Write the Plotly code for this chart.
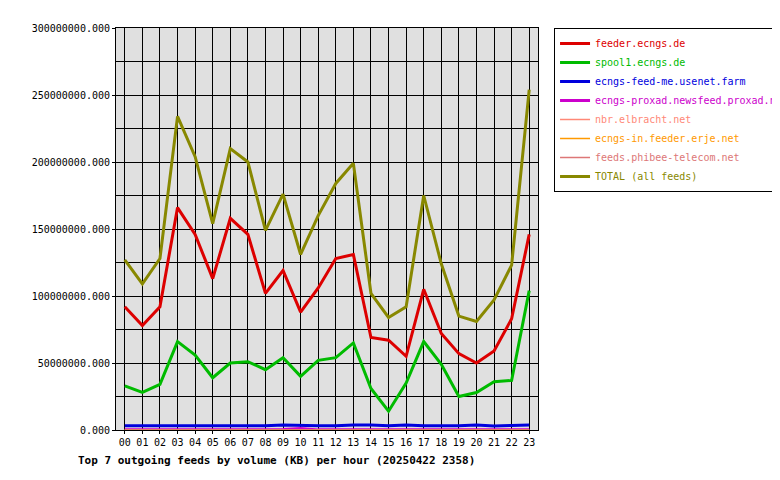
import plotly.graph_objects as go

hours = ['%02d' % h for h in range(24)]

feeder = [92, 78, 92, 166, 146, 113, 158, 146, 102, 119, 88, 106, 128, 131, 69, 67, 55, 105, 72, 57, 50, 59, 83, 146]
spool1 = [33, 28, 34, 66, 56, 39, 50, 51, 45, 54, 40, 52, 54, 65, 31, 14, 35, 66, 49, 25, 28, 36, 37, 104]
feedme = [3.2, 3.2, 3.2, 3.2, 3.2, 3.2, 3.2, 3.2, 3.2, 3.8, 3.4, 3.2, 3.2, 3.8, 3.8, 3.2, 3.8, 3.2, 3.2, 3.2, 3.8, 3.0, 3.4, 3.8]
proxad = [0.1, 0.1, 0.1, 0.1, 0.1, 0.1, 0.1, 0.1, 0.1, 0.3, 1.2, 0.1, 0.1, 0.1, 0.1, 0.1, 0.1, 0.1, 0.1, 0.1, 0.1, 0.1, 0.1, 0.1]
elbracht = [0] * 24
erje = [0] * 24
phibee = [0] * 24
total = [127, 109, 128, 234, 204, 154, 210, 200, 149, 176, 131, 160, 184, 199, 102, 84, 92, 175, 124, 85, 81, 97, 123, 254]

series = [
    ('feeder.ecngs.de', feeder, '#dd0000', 3),
    ('spool1.ecngs.de', spool1, '#00bb00', 3),
    ('ecngs-feed-me.usenet.farm', feedme, '#0000dd', 3),
    ('ecngs-proxad.newsfeed.proxad.net', proxad, '#cc00cc', 3),
    ('nbr.elbracht.net', elbracht, '#ff8877', 1.5),
    ('ecngs-in.feeder.erje.net', erje, '#ff9900', 1.5),
    ('feeds.phibee-telecom.net', phibee, '#dd7777', 1.5),
    ('TOTAL (all feeds)', total, '#888800', 3),
]

fig = go.Figure()
for name, vals, color, w in series:
    fig.add_trace(go.Scatter(
        x=hours, y=[v * 1e6 for v in vals],
        name='<span style="color:%s">%s</span>' % (color, name), mode='lines',
        line=dict(color=color, width=w),
    ))

fig.update_layout(
    width=780, height=480,
    paper_bgcolor='white', plot_bgcolor='#e0e0e0',
    margin=dict(l=108, r=250, t=20, b=58, autoexpand=False),
    font=dict(family='DejaVu Sans Mono', size=10, color='black'),
    showlegend=True,
    legend=dict(x=1.038, y=1, xanchor='left', yanchor='top',
                bordercolor='black', borderwidth=1, bgcolor='white',
                font=dict(size=10), tracegroupgap=0, itemwidth=30),
    annotations=[dict(
        text='<b>Top 7 outgoing feeds by volume (KB) per hour (20250422 2358)</b>',
        xref='paper', yref='paper', x=-0.095, y=-0.055, xanchor='left', yanchor='top',
        showarrow=False, font=dict(size=11),
    )],
)
fig.update_xaxes(type='category', range=[-0.5, 23.5], showgrid=True, gridcolor='black',
                 gridwidth=1, showline=True, linecolor='black', mirror=True,
                 ticks='outside', ticklen=3, tickcolor='black')
fig.update_yaxes(range=[0, 300e6], dtick=50e6, tickformat='.3f', showgrid=True,
                 gridcolor='black', gridwidth=1, showline=True, linecolor='black',
                 mirror=True, zeroline=False, ticks='outside', ticklen=3, tickcolor='black',
                 minor=dict(dtick=25e6, showgrid=True, gridcolor='black', gridwidth=1))

fig.write_html('out.html')
